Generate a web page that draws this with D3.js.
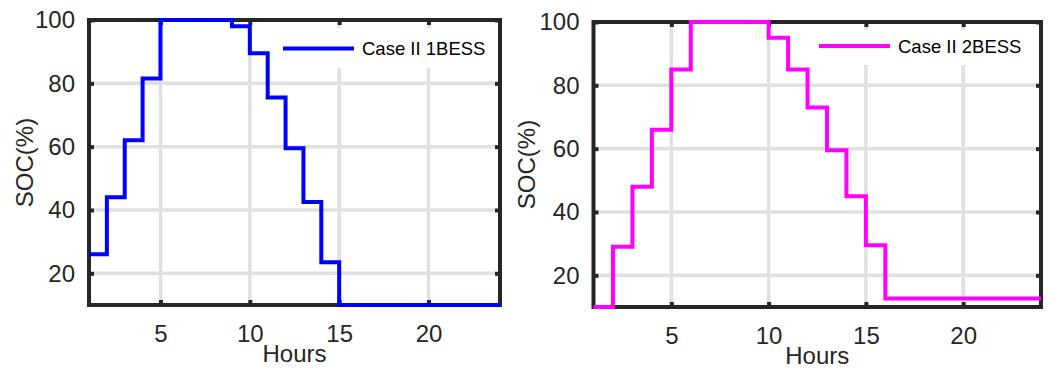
<!DOCTYPE html>
<html>
<head>
<meta charset="utf-8">
<script src="https://cdn.jsdelivr.net/npm/d3@7"></script>
<style>
  body { margin: 0; background: #fff; }
  svg { display: block; font-family: "Liberation Sans", Arial, sans-serif; }
</style>
</head>
<body>
<svg id="chart" width="1049" height="369"></svg>
<script>
"use strict"

// data
var hours = [1, 2, 3, 4, 5, 6, 7, 8, 9, 10, 11, 12, 13, 14, 15, 16, 17, 18, 19, 20, 21, 22, 23, 24];
var soc1BESS = [26, 44, 62, 81.5, 100, 100, 100, 100, 98, 89.5, 75.5, 59.5, 42.5, 23.5, 10, 10, 10, 10, 10, 10, 10, 10, 10, 10];
var soc2BESS = [10, 29, 48, 66, 85, 100, 100, 100, 100, 95, 85, 73, 59.5, 45, 29.5, 12.7, 12.7, 12.7, 12.7, 12.7, 12.7, 12.7, 12.7, 12.7];
var xTicks = [5, 10, 15, 20];
var yTicks = [20, 40, 60, 80, 100];
var xDomain = [1, 24],
    yDomain = [10, 100];

var svg = d3.select("#chart");
var textColor = "#262626";

function drawPanel(opts){
  var x = d3.scaleLinear().domain(xDomain).range([opts.left, opts.right]),
      y = d3.scaleLinear().domain(yDomain).range([opts.bottom, opts.top]);

  var g = svg.append("g");

  // grid
  g.append("g").selectAll("line")
    .data(xTicks).enter().append("line")
      .attr("x1", function(d){ return x(d); })
      .attr("x2", function(d){ return x(d); })
      .attr("y1", opts.top)
      .attr("y2", opts.bottom)
      .attr("stroke", "#e0e0e0")
      .attr("stroke-width", 3.5);
  g.append("g").selectAll("line")
    .data(yTicks).enter().append("line")
      .attr("x1", opts.left)
      .attr("x2", opts.right)
      .attr("y1", function(d){ return y(d); })
      .attr("y2", function(d){ return y(d); })
      .attr("stroke", "#e0e0e0")
      .attr("stroke-width", 3.5);

  // axes, ticks pointing inward
  var bottomAxis = g.append("g")
    .attr("transform", "translate(0," + opts.bottom + ")")
    .call(d3.axisBottom(x).tickValues(xTicks).tickSize(-5).tickPadding(20));
  var topAxis = g.append("g")
    .attr("transform", "translate(0," + opts.top + ")")
    .call(d3.axisTop(x).tickValues(xTicks).tickSize(-5).tickFormat(""));
  var leftAxis = g.append("g")
    .attr("transform", "translate(" + opts.left + ",0)")
    .call(d3.axisLeft(y).tickValues(yTicks).tickSize(-5).tickPadding(14));
  var rightAxis = g.append("g")
    .attr("transform", "translate(" + opts.right + ",0)")
    .call(d3.axisRight(y).tickValues(yTicks).tickSize(-5).tickFormat(""));

  [bottomAxis, topAxis, leftAxis, rightAxis].forEach(function(a){
    a.select(".domain").remove();
    a.selectAll(".tick line").attr("stroke", textColor).attr("stroke-width", 4);
    a.selectAll(".tick text")
      .attr("fill", textColor)
      .style("font-size", "24px");
  });

  // box
  g.append("rect")
    .attr("x", opts.left)
    .attr("y", opts.top)
    .attr("width", opts.right - opts.left)
    .attr("height", opts.bottom - opts.top)
    .attr("fill", "none")
    .attr("stroke", textColor)
    .attr("stroke-width", 4);

  // stairs
  var line = d3.line()
    .x(function(d, i){ return x(hours[i]); })
    .y(function(d){ return y(d); })
    .curve(d3.curveStepAfter);
  g.append("path")
    .datum(opts.values)
    .attr("d", line)
    .attr("fill", "none")
    .attr("stroke", opts.color)
    .attr("stroke-width", 4);

  // axis labels
  g.append("text")
    .attr("x", (opts.left + opts.right) / 2)
    .attr("y", opts.bottom + 57)
    .attr("text-anchor", "middle")
    .attr("fill", textColor)
    .style("font-size", "24px")
    .text("Hours");
  g.append("text")
    .attr("transform", "translate(" + opts.yLabelX + "," + ((opts.top + opts.bottom) / 2) + ") rotate(-90)")
    .attr("text-anchor", "middle")
    .attr("fill", textColor)
    .style("font-size", "24px")
    .text("SOC(%)");

  // legend
  var lg = g.append("g");
  lg.append("rect")
    .attr("x", opts.legend.x)
    .attr("y", opts.top + 8)
    .attr("width", opts.right - 2 - opts.legend.x)
    .attr("height", opts.legend.h)
    .attr("fill", "#fff");
  lg.append("line")
    .attr("x1", opts.legend.x + 7)
    .attr("x2", opts.legend.x + 78)
    .attr("y1", opts.legend.y)
    .attr("y2", opts.legend.y)
    .attr("stroke", opts.color)
    .attr("stroke-width", 4);
  lg.append("text")
    .attr("x", opts.legend.x + 86)
    .attr("y", opts.legend.y + 6.5)
    .attr("fill", "#000")
    .style("font-size", "18.5px")
    .text(opts.name);
}

drawPanel({
  left: 89, right: 500, top: 20, bottom: 305,
  values: soc1BESS, color: "#0000ff", name: "Case II 1BESS",
  yLabelX: 33,
  legend: {x: 276, y: 48.5, h: 40}
});

drawPanel({
  left: 593.5, right: 1041, top: 22, bottom: 307,
  values: soc2BESS, color: "#ff00ff", name: "Case II 2BESS",
  yLabelX: 535,
  legend: {x: 812, y: 46, h: 35}
});
</script>
</body>
</html>
